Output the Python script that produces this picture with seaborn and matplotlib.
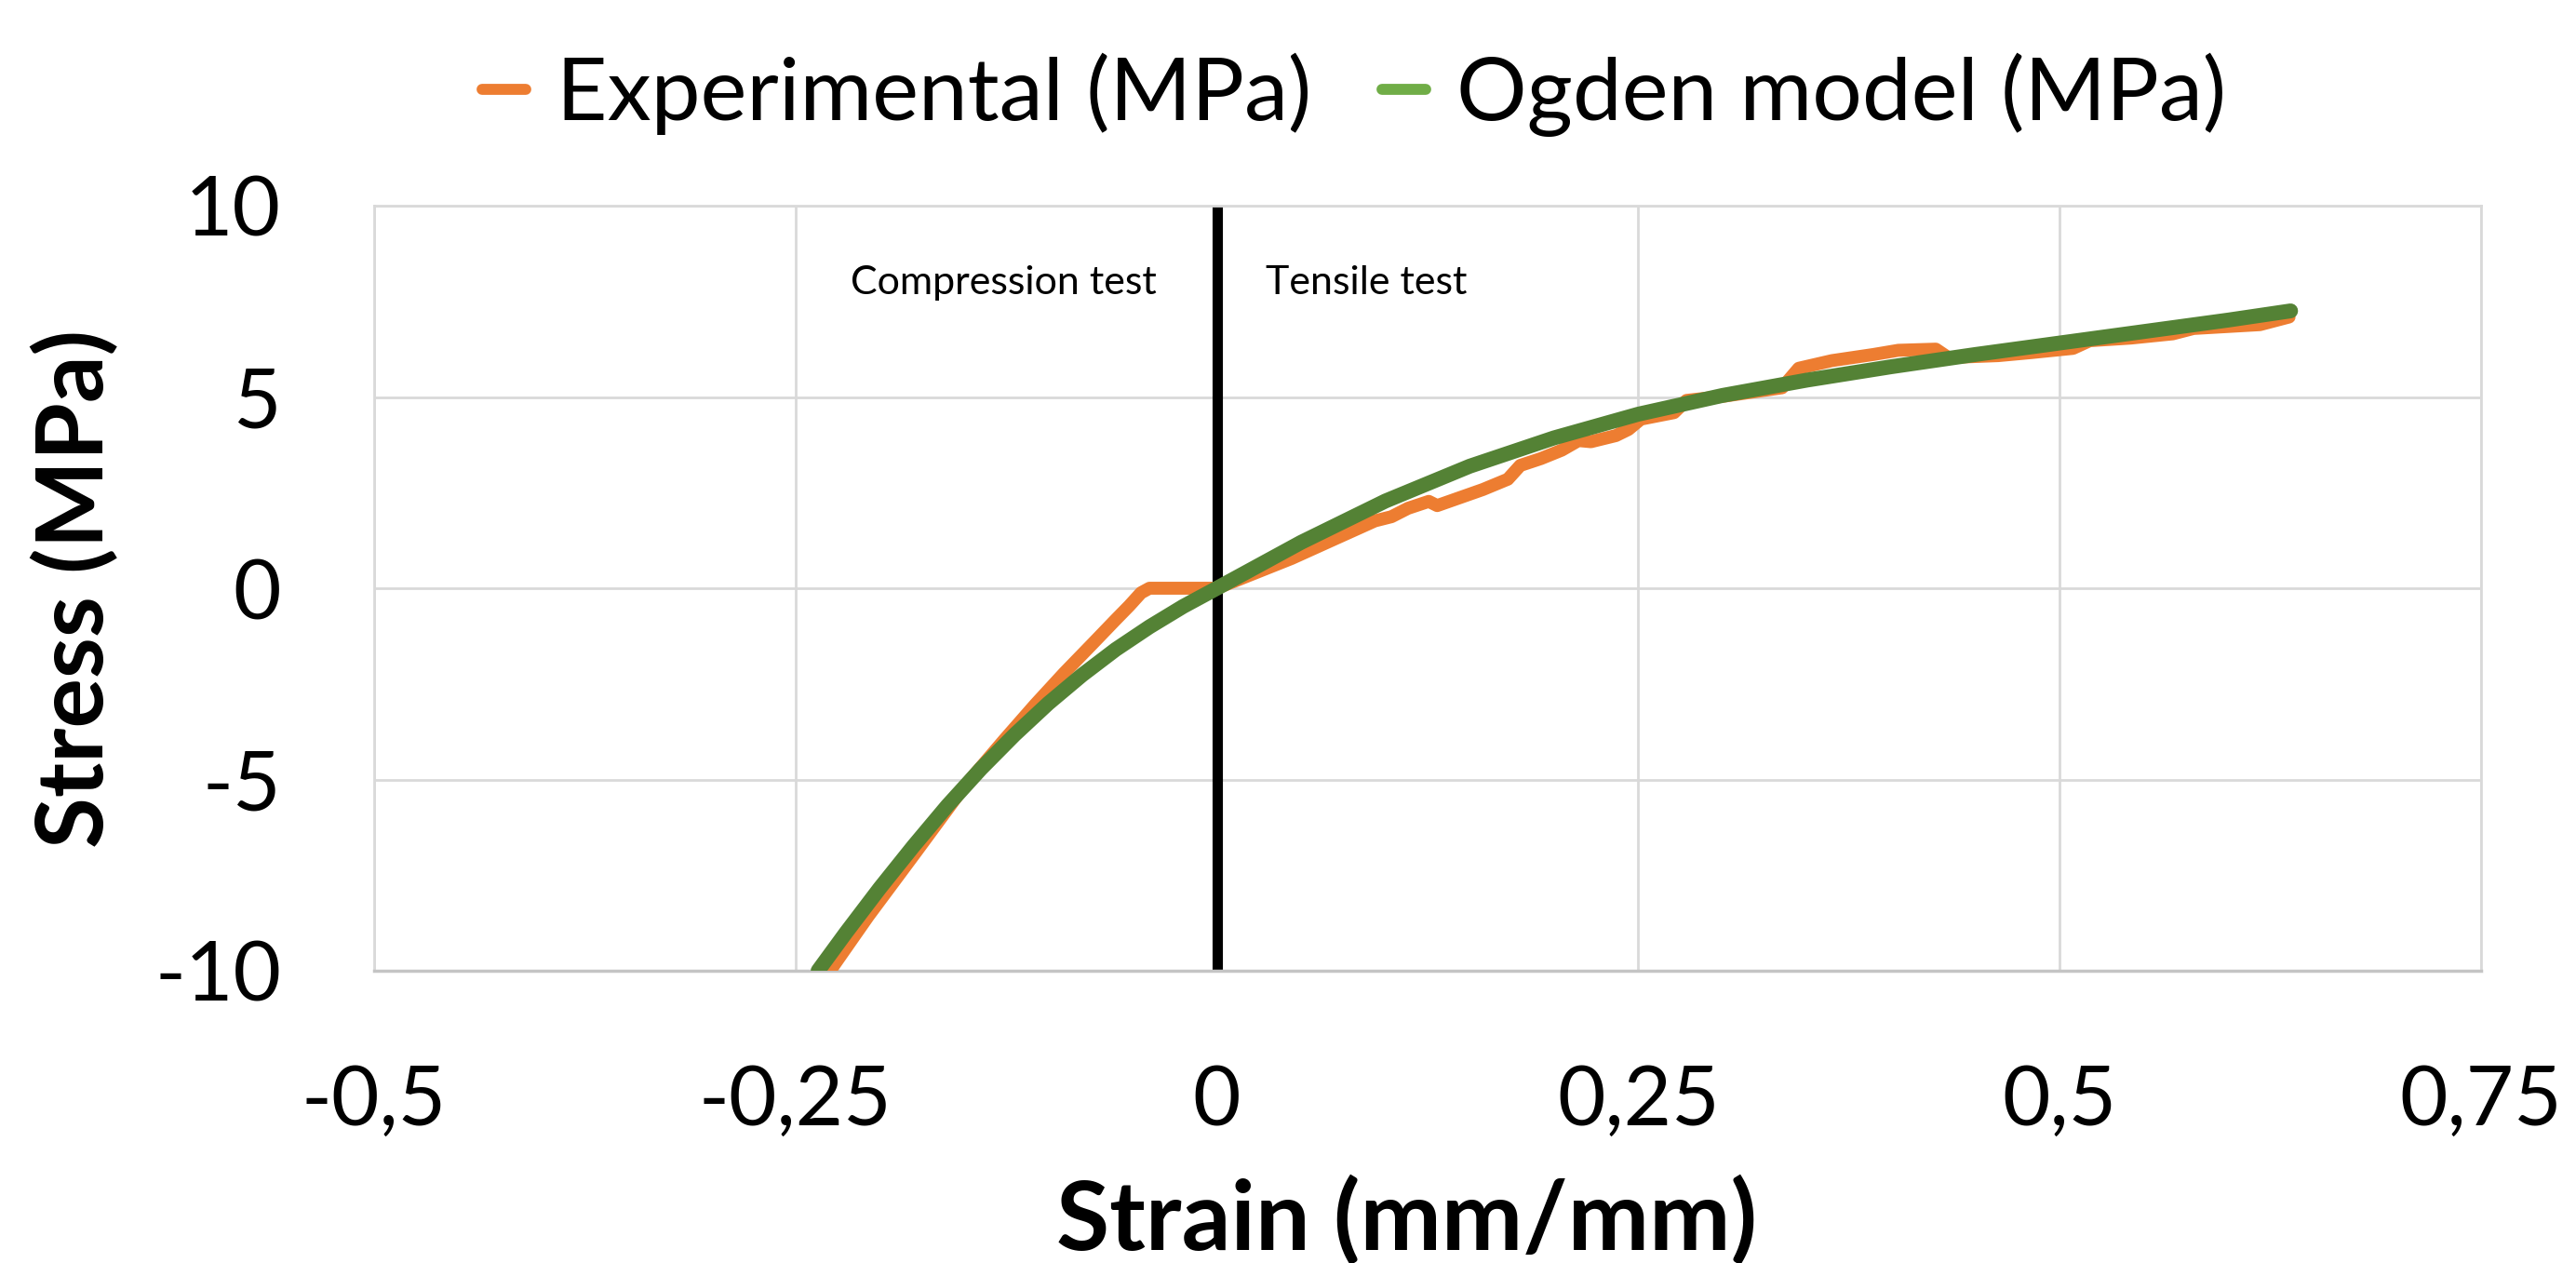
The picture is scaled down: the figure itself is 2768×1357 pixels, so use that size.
import matplotlib
matplotlib.use("Agg")
import matplotlib.pyplot as plt
import seaborn as sns
import pandas as pd
from matplotlib.lines import Line2D

# ---------------- data ----------------
exp_strain = [-0.2295, -0.2068, -0.1786, -0.1505, -0.1259, -0.1080, -0.0907, -0.0731,
              -0.0600, -0.0520, -0.0450, -0.0400, 0.0,
              0.0444, 0.069, 0.0937, 0.1036, 0.1134, 0.1257, 0.1307, 0.1578, 0.1726,
              0.18, 0.1923, 0.2046, 0.2145, 0.2219, 0.2367, 0.2441, 0.2515, 0.2712,
              0.2786, 0.3008, 0.3353, 0.3452, 0.3649, 0.3895, 0.4043, 0.4265, 0.4339,
              0.4635, 0.4832, 0.5079, 0.5178, 0.5424, 0.5671, 0.5794, 0.6188, 0.6361]
exp_stress = [-10.0, -8.57, -6.90, -5.22, -3.95, -3.05, -2.22, -1.42,
              -0.82, -0.46, -0.12, 0.0, 0.0,
              0.78, 1.27, 1.76, 1.87, 2.09, 2.27, 2.16, 2.58, 2.85,
              3.21, 3.39, 3.61, 3.86, 3.83, 3.99, 4.15, 4.42, 4.59,
              4.91, 5.02, 5.24, 5.75, 5.95, 6.11, 6.22, 6.25, 6.03,
              6.08, 6.16, 6.27, 6.47, 6.54, 6.65, 6.79, 6.89, 7.09]

ogden_strain = [-0.2366, -0.22, -0.20, -0.18, -0.16, -0.14, -0.12, -0.10, -0.08, -0.06,
                -0.04, -0.02, 0.0,
                0.05, 0.10, 0.15, 0.20, 0.25, 0.30, 0.35, 0.40, 0.45, 0.50, 0.55, 0.60, 0.637]
ogden_stress = [-10.0, -9.00, -7.84, -6.74, -5.69, -4.72, -3.83, -3.01, -2.27, -1.60,
                -1.01, -0.476, 0.0,
                1.20, 2.28, 3.19, 3.93, 4.55, 5.04, 5.44, 5.79, 6.11, 6.41, 6.71, 7.01, 7.25]

x_ticks = [-0.5, -0.25, 0.0, 0.25, 0.5, 0.75]
x_tick_labels = ["-0,5", "-0,25", "0", "0,25", "0,5", "0,75"]
y_ticks = [-10, -5, 0, 5, 10]
y_tick_labels = ["-10", "-5", "0", "5", "10"]

series_names = ["Experimental (MPa)", "Ogden model (MPa)"]
line_colors = ["#ED7D31", "#548235"]
legend_colors = ["#ED7D31", "#70AD47"]

# ---------------- figure ----------------
sns.set_theme(style="white")
plt.rcParams["font.family"] = ["Lato", "DejaVu Sans"]
plt.rcParams["text.color"] = "black"
plt.rcParams["axes.labelcolor"] = "black"
plt.rcParams["xtick.color"] = "black"
plt.rcParams["ytick.color"] = "black"

fig = plt.figure(figsize=(27.68, 13.57), dpi=100)
ax = fig.add_axes([402 / 2768, 1 - 1043 / 1357, (2666 - 402) / 2768, (1043 - 221) / 1357])

df_exp = pd.DataFrame({"strain": exp_strain, "stress": exp_stress})
df_og = pd.DataFrame({"strain": ogden_strain, "stress": ogden_stress})

ax.axvline(0, color="black", lw=8, zorder=2)
sns.lineplot(data=df_exp, x="strain", y="stress", ax=ax, color=line_colors[0], lw=10,
             sort=False, estimator=None, zorder=3, solid_capstyle="round", solid_joinstyle="round")
sns.lineplot(data=df_og, x="strain", y="stress", ax=ax, color=line_colors[1], lw=11.5,
             sort=False, estimator=None, zorder=4, solid_capstyle="round", solid_joinstyle="round")

ax.set_xlim(-0.5, 0.75)
ax.set_ylim(-10, 10)
ax.set_xticks(x_ticks)
ax.set_xticklabels(x_tick_labels)
ax.set_yticks(y_ticks)
ax.set_yticklabels(y_tick_labels)
ax.tick_params(axis="both", length=0, labelsize=64, colors="black")
ax.tick_params(axis="x", pad=72)
ax.tick_params(axis="y", pad=72)

ax.grid(True, color="#D9D9D9", lw=2)
ax.set_axisbelow(True)
for side in ["left", "right", "top"]:
    ax.spines[side].set_color("#D9D9D9")
    ax.spines[side].set_linewidth(2)
ax.spines["bottom"].set_color("#C4C4C4")
ax.spines["bottom"].set_linewidth(2.5)

ax.set_xlabel("Strain (mm/mm)", fontsize=75, fontweight="bold", color="black")
ax.set_ylabel("Stress (MPa)", fontsize=72, fontweight="bold", color="black")
ax.xaxis.set_label_coords(0.49, -0.266)
ax.yaxis.set_label_coords(-0.121, 0.5)

ax.text(-0.1268, 7.98, "Compression test", fontsize=31, ha="center", va="center", color="black")
ax.text(0.0886, 7.98, "Tensile test", fontsize=31, ha="center", va="center", color="black")

handles = [Line2D([0], [0], color=c, lw=8.5, solid_capstyle="round") for c in legend_colors]
leg = fig.legend(handles, series_names, loc="center", bbox_to_anchor=(0.5257, 0.925), ncol=2,
                 frameon=False, fontsize=68, handlelength=0.5, handletextpad=0.35,
                 columnspacing=0.8, borderaxespad=0)
for t in leg.get_texts():
    t.set_color("black")

fig.savefig("out.png", dpi=100)
